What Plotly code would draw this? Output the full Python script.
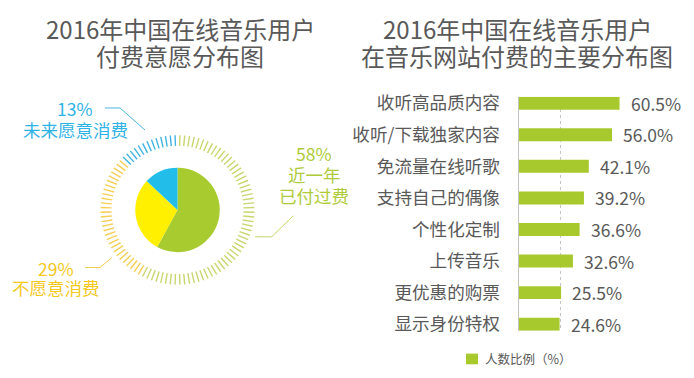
import math
import plotly.graph_objects as go

# ---------------- data ----------------
pie_labels = ["近一年已付过费", "不愿意消费", "未来愿意消费"]
pie_values = [58, 29, 13]
pie_label_lines = [["近一年", "已付过费"], ["不愿意消费"], ["未来愿意消费"]]

bar_categories = ["收听高品质内容", "收听/下载独家内容", "免流量在线听歌", "支持自己的偶像",
                  "个性化定制", "上传音乐", "更优惠的购票", "显示身份特权"]
bar_values = [60.5, 56.0, 42.1, 39.2, 36.6, 32.6, 25.5, 24.6]
legend_name = "人数比例（%）"

title_left = ["2016年中国在线音乐用户", "付费意愿分布图"]
title_right = ["2016年中国在线音乐用户", "在音乐网站付费的主要分布图"]

# ---------------- style ----------------
W, H = 694, 378
FONT = "Noto Sans CJK SC, Microsoft YaHei, sans-serif"
GREY = "#595959"
BAR_COLOR = "#a8c92e"
pie_colors = ["#a8cb2f", "#fff000", "#23bdea"]
ring_colors = ["#c9d66e", "#f5cf55", "#40b4e2"]
label_colors = ["#b0cb3a", "#f5c81c", "#2fb2e6"]
line_colors = ["#c7d46a", "#f3cd4a", "#4cb8e0"]

cx, cy, r = 177.5, 209.0, 43.5
r_in, r_out = 66.0, 77.0
n_ticks = 100

fig = go.Figure()

# pie
fig.add_trace(go.Pie(
    labels=pie_labels, values=pie_values, sort=False, direction="clockwise", rotation=0,
    marker=dict(colors=pie_colors, line=dict(width=0)),
    textinfo="none", hoverinfo="label+percent", showlegend=False,
    domain=dict(x=[(cx - r) / W, (cx + r) / W], y=[(H - cy - r) / H, (H - cy + r) / H]),
))

# decorative ring of ticks, coloured by the pie shares
total = float(sum(pie_values))
cum = []
acc = 0.0
for v in pie_values:
    acc += v
    cum.append(acc / total)
ring_x = [[] for _ in pie_values]
ring_y = [[] for _ in pie_values]
for i in range(n_ticks):
    frac = (i + 0.5) / n_ticks
    k = next(j for j, c in enumerate(cum) if frac < c)
    th = frac * 2 * math.pi
    s, c = math.sin(th), math.cos(th)
    ring_x[k] += [cx + r_in * s, cx + r_out * s, None]
    ring_y[k] += [cy - r_in * c, cy - r_out * c, None]
for k in range(len(pie_values)):
    fig.add_trace(go.Scatter(
        x=ring_x[k], y=ring_y[k], mode="lines", xaxis="x2", yaxis="y2",
        line=dict(color=ring_colors[k], width=1.4), hoverinfo="skip", showlegend=False,
    ))

# bars
fig.add_trace(go.Bar(
    x=bar_values, y=bar_categories, orientation="h", width=0.41,
    marker=dict(color=BAR_COLOR, line=dict(width=0)),
    name=legend_name, showlegend=False, xaxis="x", yaxis="y",
))

annotations = []
# value labels
for cat, v in zip(bar_categories, bar_values):
    annotations.append(dict(
        x=v, y=cat, xref="x", yref="y", text=f"{v:.1f}%", showarrow=False,
        xanchor="left", yanchor="middle", xshift=9,
        font=dict(family=FONT, size=17.5, color=GREY),
    ))

# titles (one annotation per line)
for lines, xc in ((title_left, 180), (title_right, 517)):
    for j, line in enumerate(lines):
        annotations.append(dict(x=xc, y=22 + 28 * j, xref="x2", yref="y2", text=line,
                                showarrow=False, xanchor="center", yanchor="middle",
                                height=27,
                                font=dict(family=FONT, size=24, color=GREY)))

# pie labels
pie_label_pos = [(314, [150.5, 172.5, 193.5]), (56, [268.5, 288.5]), (75, [104.5, 125.5])]
for k in range(len(pie_values)):
    xc, ys = pie_label_pos[k]
    texts = [f"{pie_values[k]}%"] + pie_label_lines[k]
    for t, yv in zip(texts, ys):
        annotations.append(dict(
            x=xc, y=yv, xref="x2", yref="y2", text=t, showarrow=False,
            xanchor="center", yanchor="middle", height=20,
            font=dict(family=FONT, size=17.5, color=label_colors[k]),
        ))

# legend text
annotations.append(dict(x=483, y=362.5, xref="x2", yref="y2", text=legend_name, showarrow=False,
                        xanchor="left", yanchor="middle",
                        font=dict(family=FONT, size=12.5, color=GREY)))

shapes = []
leaders = [
    [(293.3, 215), (271.7, 236.7), (255, 236.7)],
    [(85, 268.3), (100, 268.3), (111.7, 258.3)],
    [(105, 104), (120, 104), (145, 126.7)],
]
for k, pts in enumerate(leaders):
    path = "M " + " L ".join(f"{x},{y}" for x, y in pts)
    shapes.append(dict(type="path", path=path, xref="x2", yref="y2",
                       line=dict(color=line_colors[k], width=1)))
# legend swatch
shapes.append(dict(type="rect", x0=466, x1=478, y0=357, y1=368, xref="x2", yref="y2",
                   fillcolor=BAR_COLOR, line=dict(width=0)))

x0 = 518.5
px_per_unit = 1.67
y_top, y_bot = 92.4, 333.4
fig.update_layout(
    width=W, height=H, autosize=False,
    margin=dict(l=0, r=0, t=0, b=0, pad=0),
    paper_bgcolor="white", plot_bgcolor="rgba(0,0,0,0)",
    showlegend=False,
    font=dict(family=FONT, color=GREY),
    xaxis=dict(domain=[x0 / W, (x0 + 100 * px_per_unit) / W], range=[0, 100],
               tickvals=[25], showticklabels=False, showgrid=True, gridcolor="#c4c4c4",
               griddash="dot", gridwidth=1, zeroline=False, showline=False, fixedrange=True,
               anchor="y"),
    yaxis=dict(domain=[(H - y_bot) / H, (H - y_top) / H], range=[7.205, -0.205],
               type="category", showline=True, linecolor="#c4c4c4", linewidth=1,
               ticks="", ticklabelstandoff=14, showgrid=False, zeroline=False,
               tickfont=dict(family=FONT, size=17.6, color=GREY), fixedrange=True, anchor="x"),
    xaxis2=dict(domain=[0, 1], range=[0, W], visible=False, anchor="y2", fixedrange=True),
    yaxis2=dict(domain=[0, 1], range=[H, 0], visible=False, anchor="x2", fixedrange=True),
    annotations=annotations,
    shapes=shapes,
)

fig.write_html(
    "out.html",
    config={"displayModeBar": False},
    post_script="document.body.style.margin='0px';document.body.style.overflow='hidden';",
)
